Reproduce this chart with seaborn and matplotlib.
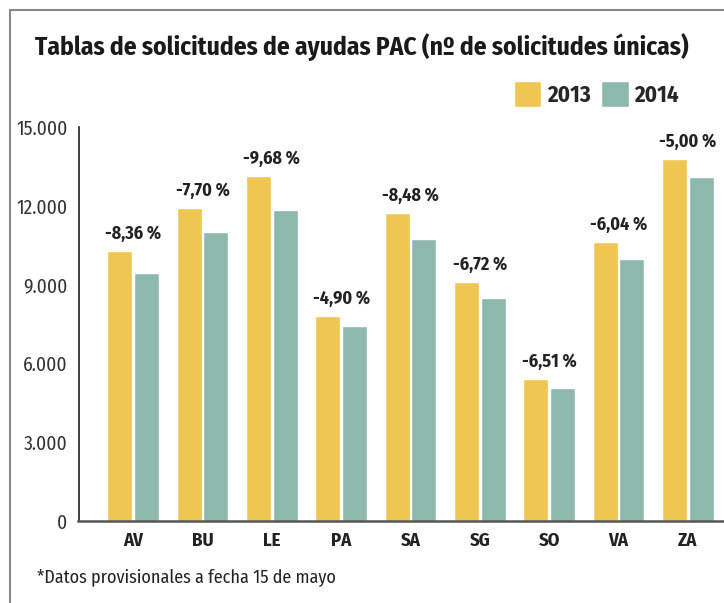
import matplotlib
matplotlib.use("Agg")
import matplotlib.pyplot as plt
from matplotlib.patches import Patch, Rectangle
import seaborn as sns
import pandas as pd

provinces = ["AV", "BU", "LE", "PA", "SA", "SG", "SO", "VA", "ZA"]
values_2013 = [10300, 11910, 13130, 7800, 11720, 9100, 5400, 10620, 13780]
values_2014 = [9440, 11000, 11850, 7420, 10730, 8490, 5060, 9980, 13090]
changes = ["-8,36 %", "-7,70 %", "-9,68 %", "-4,90 %", "-8,48 %",
           "-6,72 %", "-6,51 %", "-6,04 %", "-5,00 %"]
years = ["2013", "2014"]
colors = ["#F0C653", "#8EB8AD"]


def main():
    sns.set_style("white")
    plt.rcParams["font.family"] = ["Fira Sans Condensed", "Roboto Condensed", "DejaVu Sans"]

    df = pd.DataFrame({
        "prov": provinces * 2,
        "year": [years[0]] * len(provinces) + [years[1]] * len(provinces),
        "value": values_2013 + values_2014,
    })

    fig = plt.figure(figsize=(7.24, 6.03), dpi=100)
    ax = fig.add_axes([78.5 / 724, 81.7 / 603, 644 / 724, 394 / 603])

    sns.barplot(data=df, x="prov", y="value", hue="year", palette=colors,
                width=0.77, gap=0.06, ax=ax, legend=False, saturation=1)

    ax.set_xlim(-0.79, 8.5)
    ax.set_ylim(0, 15000)
    ax.set_yticks([0, 3000, 6000, 9000, 12000, 15000])
    ax.set_yticklabels(["0", "3.000", "6.000", "9.000", "12.000", "15.000"],
                       fontsize=14, color="#333333")
    ax.set_xticks(range(len(provinces)))
    ax.set_xticklabels(provinces, fontsize=13.5, fontweight="bold", color="#222222")
    ax.set_xticks([i + 0.5 for i in range(len(provinces))], minor=True)
    ax.tick_params(axis="x", which="major", length=0, pad=8)
    ax.tick_params(axis="x", which="minor", direction="in", length=7, width=1.3, color="#333333")
    ax.tick_params(axis="y", direction="in", length=11, width=1.3, color="#333333", pad=8)
    ax.set_xlabel("")
    ax.set_ylabel("")

    for s in ["top", "right"]:
        ax.spines[s].set_visible(False)
    ax.spines["left"].set_color("#333333")
    ax.spines["left"].set_linewidth(1.3)
    ax.spines["bottom"].set_color("#555555")
    ax.spines["bottom"].set_linewidth(1.8)

    for i, lab in enumerate(changes):
        ax.annotate(lab, (i, values_2013[i]), xytext=(0, 6), textcoords="offset points",
                    ha="center", va="bottom", fontsize=13, fontweight="bold",
                    color="#222222", annotation_clip=False)

    fig.text(361.5 / 724, 1 - 47 / 603, "Tablas de solicitudes de ayudas PAC (nº de solicitudes únicas)",
             ha="center", va="center", fontsize=18.3, fontweight="bold", color="#1a1a1a")

    handles = [Patch(facecolor=c, label=y) for c, y in zip(colors, years)]
    fig.legend(handles=handles, loc="center right", bbox_to_anchor=(679 / 724, 1 - 94 / 603),
               ncol=2, frameon=False, prop={"weight": "bold", "size": 16.5},
               handlelength=1.2, handleheight=1.35, handletextpad=0.25, columnspacing=0.45,
               borderpad=0, borderaxespad=0)

    fig.text(37 / 724, 1 - 578 / 603, "*Datos provisionales a fecha 15 de mayo",
             ha="left", va="center", fontsize=13, color="#222222")

    fig.patches.append(Rectangle((10 / 724, -0.1), 1.2, 1.1 - 10 / 603,
                                 transform=fig.transFigure, fill=False,
                                 edgecolor="#888888", linewidth=1.5))

    fig.savefig("out.png", dpi=100)


if __name__ == "__main__":
    main()
